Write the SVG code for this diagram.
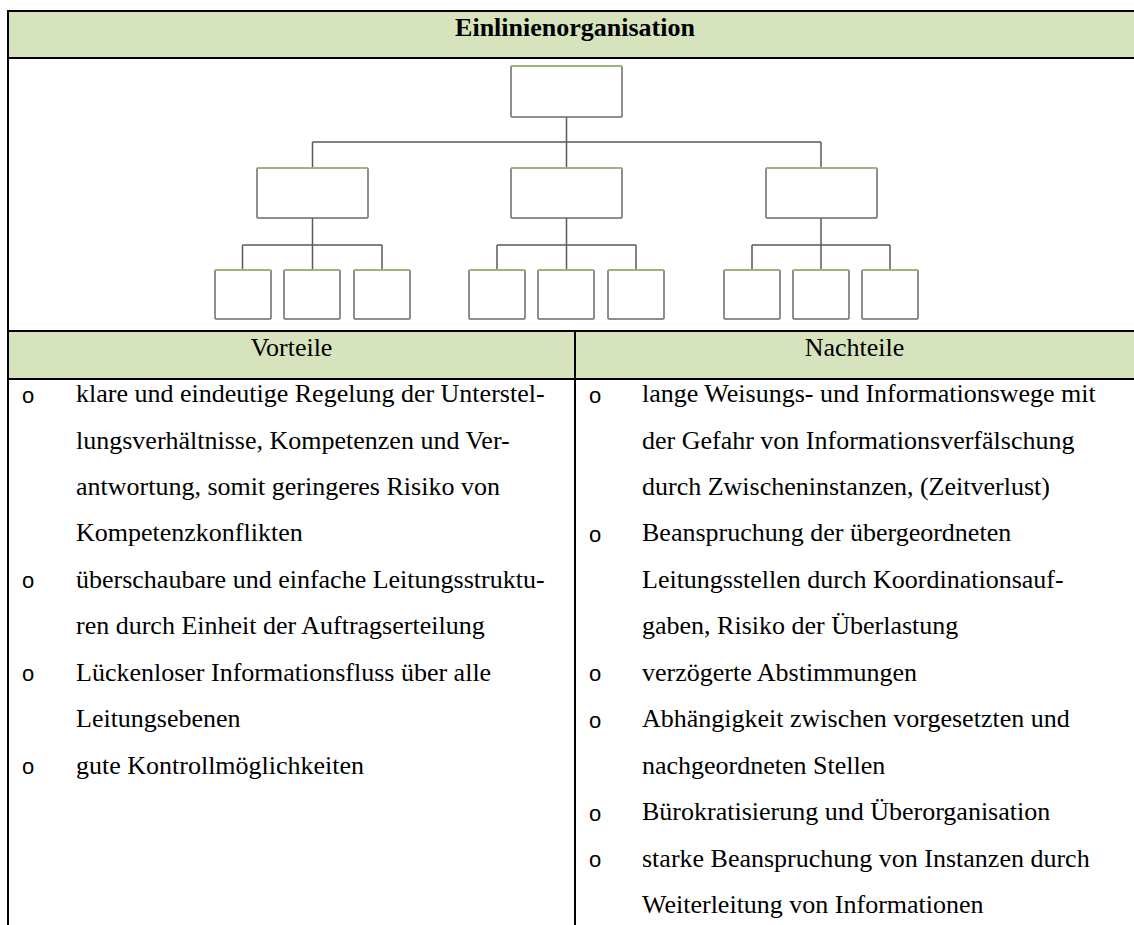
<svg xmlns="http://www.w3.org/2000/svg" width="1134" height="925" viewBox="0 0 1134 925">
  <style>
    .band { fill: #d6e3bc; }
    .rule { stroke: #000; stroke-width: 2; fill: none; }
    .box { fill: #fff; stroke: #6a6a6a; stroke-width: 1.5; }
    .boxtop { stroke: #a3c077; stroke-width: 1.6; fill: none; }
    .conn { stroke: #5a5a5a; stroke-width: 1.5; fill: none; }
    .title { font-family: "Liberation Serif", "Times New Roman", serif; font-weight: bold; font-size: 26px; fill: #000; }
    .head { font-family: "Liberation Serif", "Times New Roman", serif; font-size: 26px; fill: #000; }
    .body { font-family: "Liberation Serif", "Times New Roman", serif; font-size: 26px; fill: #000; }
    .bul { font-family: "Liberation Sans", Arial, sans-serif; font-size: 22px; fill: #000; }
  </style>

  <rect width="1134" height="925" fill="#fff"/>

  <!-- table background bands -->
  <rect class="band" x="8" y="11" width="1126" height="47"/>
  <rect class="band" x="8" y="331" width="1126" height="48"/>

  <!-- table rules -->
  <g id="table">
    <line class="rule" x1="7" y1="11" x2="1134" y2="11"/>
    <line class="rule" x1="8" y1="58" x2="1134" y2="58"/>
    <line class="rule" x1="8" y1="331" x2="1134" y2="331"/>
    <line class="rule" x1="8" y1="379" x2="1134" y2="379"/>
    <line class="rule" x1="8" y1="10" x2="8" y2="925"/>
    <line class="rule" x1="575" y1="331" x2="575" y2="925"/>
  </g>

  <text class="title" x="575" y="36" text-anchor="middle">Einlinienorganisation</text>
  <text class="head" x="291.5" y="356" text-anchor="middle">Vorteile</text>
  <text class="head" x="854.5" y="356" text-anchor="middle">Nachteile</text>

  <!-- connectors -->
  <g id="connectors">
    <path class="conn" d="M566.5 117 V142 M312.5 142 H821 M312.5 142 V168 M566.5 142 V168 M821 142 V168"/>
    <path class="conn" d="M312.5 218 V270 M242.5 245 H382 M242.5 245 V270 M382 245 V270"/>
    <path class="conn" d="M566.5 218 V270 M497 245 H636 M497 245 V270 M636 245 V270"/>
    <path class="conn" d="M821 218 V270 M752 245 H890 M752 245 V270 M890 245 V270"/>
  </g>

  <!-- nodes -->
  <g id="n-top"><rect class="box" x="511" y="66" width="111" height="51" rx="1"/><line class="boxtop" x1="511" y1="66" x2="622" y2="66"/></g>

  <g id="n-a"><rect class="box" x="257" y="168" width="111" height="50" rx="1"/><line class="boxtop" x1="257" y1="168" x2="368" y2="168"/></g>
  <g id="n-b"><rect class="box" x="511" y="168" width="111" height="50" rx="1"/><line class="boxtop" x1="511" y1="168" x2="622" y2="168"/></g>
  <g id="n-c"><rect class="box" x="766" y="168" width="111" height="50" rx="1"/><line class="boxtop" x1="766" y1="168" x2="877" y2="168"/></g>

  <g id="n-a1"><rect class="box" x="215" y="270" width="56" height="49" rx="1"/><line class="boxtop" x1="215" y1="270" x2="271" y2="270"/></g>
  <g id="n-a2"><rect class="box" x="284" y="270" width="56" height="49" rx="1"/><line class="boxtop" x1="284" y1="270" x2="340" y2="270"/></g>
  <g id="n-a3"><rect class="box" x="354" y="270" width="56" height="49" rx="1"/><line class="boxtop" x1="354" y1="270" x2="410" y2="270"/></g>

  <g id="n-b1"><rect class="box" x="469" y="270" width="56" height="49" rx="1"/><line class="boxtop" x1="469" y1="270" x2="525" y2="270"/></g>
  <g id="n-b2"><rect class="box" x="538" y="270" width="56" height="49" rx="1"/><line class="boxtop" x1="538" y1="270" x2="594" y2="270"/></g>
  <g id="n-b3"><rect class="box" x="608" y="270" width="56" height="49" rx="1"/><line class="boxtop" x1="608" y1="270" x2="664" y2="270"/></g>

  <g id="n-c1"><rect class="box" x="724" y="270" width="56" height="49" rx="1"/><line class="boxtop" x1="724" y1="270" x2="780" y2="270"/></g>
  <g id="n-c2"><rect class="box" x="793" y="270" width="56" height="49" rx="1"/><line class="boxtop" x1="793" y1="270" x2="849" y2="270"/></g>
  <g id="n-c3"><rect class="box" x="862" y="270" width="56" height="49" rx="1"/><line class="boxtop" x1="862" y1="270" x2="918" y2="270"/></g>

  <!-- Vorteile -->
  <g id="vorteile">
    <text class="bul" x="22" y="402.5">o</text>
    <text class="body" x="76" y="402">klare und eindeutige Regelung der Unterstel-</text>
    <text class="body" x="76" y="448.5">lungsverhältnisse, Kompetenzen und Ver-</text>
    <text class="body" x="76" y="495">antwortung, somit geringeres Risiko von</text>
    <text class="body" x="76" y="541.4">Kompetenzkonflikten</text>
    <text class="bul" x="22" y="588.3">o</text>
    <text class="body" x="76" y="587.8">überschaubare und einfache Leitungsstruktu-</text>
    <text class="body" x="76" y="634.3">ren durch Einheit der Auftragserteilung</text>
    <text class="bul" x="22" y="681.2">o</text>
    <text class="body" x="76" y="680.7">Lückenloser Informationsfluss über alle</text>
    <text class="body" x="76" y="727.2">Leitungsebenen</text>
    <text class="bul" x="22" y="774.1">o</text>
    <text class="body" x="76" y="773.6">gute Kontrollmöglichkeiten</text>
  </g>

  <!-- Nachteile -->
  <g id="nachteile">
    <text class="bul" x="589" y="402.5">o</text>
    <text class="body" x="642" y="402">lange Weisungs- und Informationswege mit</text>
    <text class="body" x="642" y="448.5">der Gefahr von Informationsverfälschung</text>
    <text class="body" x="642" y="495">durch Zwischeninstanzen, (Zeitverlust)</text>
    <text class="bul" x="589" y="541.9">o</text>
    <text class="body" x="642" y="541.4">Beanspruchung der übergeordneten</text>
    <text class="body" x="642" y="587.8">Leitungsstellen durch Koordinationsauf-</text>
    <text class="body" x="642" y="634.3">gaben, Risiko der Überlastung</text>
    <text class="bul" x="589" y="681.2">o</text>
    <text class="body" x="642" y="680.7">verzögerte Abstimmungen</text>
    <text class="bul" x="589" y="727.7">o</text>
    <text class="body" x="642" y="727.2">Abhängigkeit zwischen vorgesetzten und</text>
    <text class="body" x="642" y="773.6">nachgeordneten Stellen</text>
    <text class="bul" x="589" y="820.6">o</text>
    <text class="body" x="642" y="820.1">Bürokratisierung und Überorganisation</text>
    <text class="bul" x="589" y="867">o</text>
    <text class="body" x="642" y="866.5">starke Beanspruchung von Instanzen durch</text>
    <text class="body" x="642" y="913">Weiterleitung von Informationen</text>
  </g>
</svg>
